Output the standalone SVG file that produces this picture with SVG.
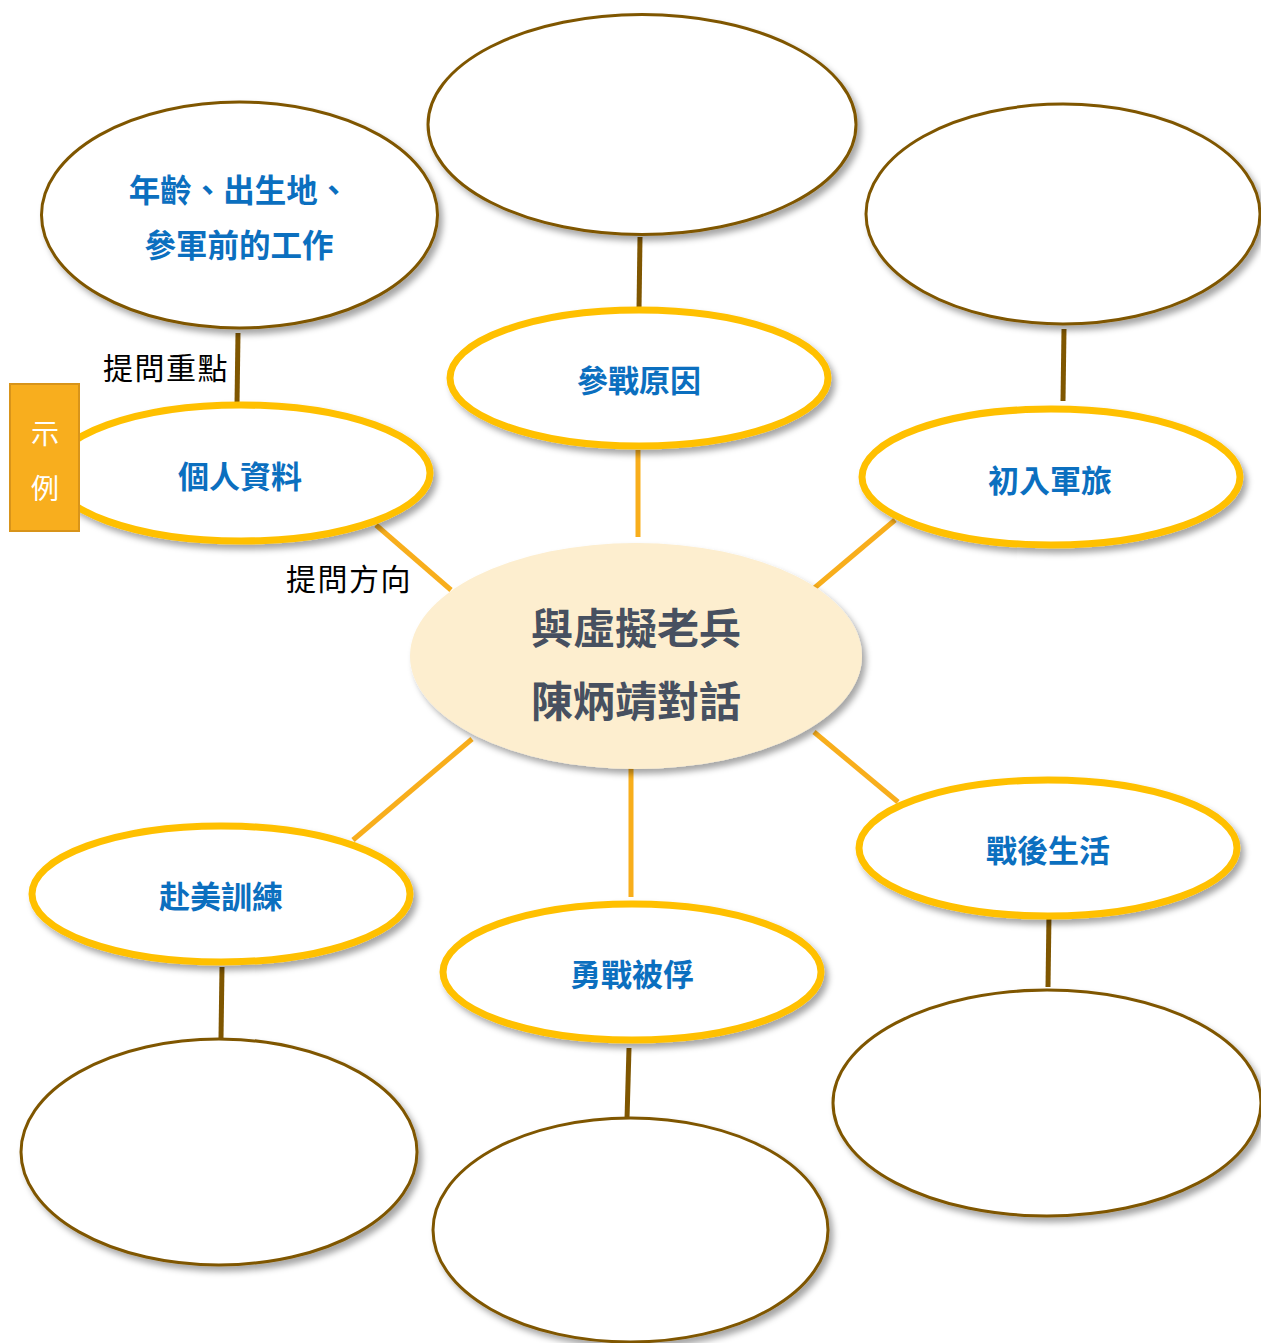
<svg xmlns="http://www.w3.org/2000/svg" width="1261" height="1343" viewBox="0 0 1261 1343">
<defs>
<filter id="sh" x="-10%" y="-10%" width="125%" height="130%">
<feDropShadow dx="4" dy="5" stdDeviation="3" flood-color="#000" flood-opacity="0.35"/>
</filter>
<style>
.out{fill:#fff;stroke:#7f5600;stroke-width:3;filter:url(#sh)}
.topic{fill:#fff;stroke:#ffc000;stroke-width:7;filter:url(#sh)}
.center{fill:#fdeecf;filter:url(#sh)}
.bc{stroke:#7f5600;stroke-width:5;fill:none}
.oc{stroke:#f8ae1c;stroke-width:5;fill:none}
.t{font-family:"Noto Sans CJK TC","Noto Sans CJK SC",sans-serif;font-weight:bold;font-size:31px;fill:#0b6fbf;dominant-baseline:central;text-anchor:middle}
.t2{font-size:31.5px}
.ct{font-family:"Noto Sans CJK TC","Noto Sans CJK SC",sans-serif;font-weight:bold;font-size:42px;fill:#475060;dominant-baseline:central;text-anchor:middle}
.lab{font-family:"Noto Sans CJK TC","Noto Sans CJK SC",sans-serif;font-size:30px;letter-spacing:1.5px;fill:#000;dominant-baseline:central}
.ex{font-family:"Noto Sans CJK TC","Noto Sans CJK SC",sans-serif;font-size:28px;fill:#fff;dominant-baseline:central;text-anchor:middle}
</style>
</defs>
<g id="connectors">
<line class="bc" x1="238" y1="333" x2="237" y2="404"/>
<line class="bc" x1="640" y1="237" x2="639" y2="309"/>
<line class="bc" x1="1064" y1="329" x2="1063" y2="401"/>
<line class="bc" x1="1049" y1="914" x2="1048" y2="987"/>
<line class="bc" x1="222" y1="967" x2="221" y2="1038"/>
<line class="bc" x1="629" y1="1048" x2="627" y2="1119"/>
<line class="oc" x1="376" y1="525" x2="451" y2="590"/>
<line class="oc" x1="638" y1="450" x2="638" y2="537"/>
<line class="oc" x1="895" y1="520" x2="812" y2="590"/>
<line class="oc" x1="472" y1="739" x2="353" y2="840"/>
<line class="oc" x1="631" y1="768" x2="631" y2="897"/>
<line class="oc" x1="814" y1="732" x2="898" y2="802"/>
</g>
<g id="q-personal">
<ellipse class="out" cx="239.5" cy="215" rx="198" ry="113"/>
<text class="t t2" x="239" y="188">年齡、出生地、</text>
<text class="t t2" x="239" y="243">參軍前的工作</text>
</g>
<g id="q-reason"><ellipse class="out" cx="642" cy="124.5" rx="214" ry="110"/></g>
<g id="q-enlist"><ellipse class="out" cx="1063" cy="214" rx="197" ry="110"/></g>
<g id="q-training"><ellipse class="out" cx="219" cy="1152" rx="198" ry="113"/></g>
<g id="q-captured"><ellipse class="out" cx="630.5" cy="1230" rx="197.5" ry="112"/></g>
<g id="q-postwar"><ellipse class="out" cx="1047" cy="1103" rx="214" ry="113"/></g>
<g id="personal"><ellipse class="topic" cx="241" cy="473" rx="189" ry="68"/><text class="t" x="240" y="474">個人資料</text></g>
<g id="reason"><ellipse class="topic" cx="639" cy="378" rx="189" ry="68"/><text class="t" x="639" y="378">參戰原因</text></g>
<g id="enlist"><ellipse class="topic" cx="1051" cy="477" rx="189" ry="68"/><text class="t" x="1050" y="478">初入軍旅</text></g>
<g id="postwar"><ellipse class="topic" cx="1048" cy="848" rx="189" ry="68"/><text class="t" x="1048" y="848">戰後生活</text></g>
<g id="training"><ellipse class="topic" cx="221" cy="894" rx="189" ry="68"/><text class="t" x="221" y="894">赴美訓練</text></g>
<g id="captured"><ellipse class="topic" cx="632" cy="972" rx="189" ry="68"/><text class="t" x="632" y="972">勇戰被俘</text></g>
<g id="center">
<ellipse class="center" cx="636" cy="656" rx="226" ry="113"/>
<text class="ct" x="636" y="625">與虛擬老兵</text>
<text class="ct" x="636" y="698">陳炳靖對話</text>
</g>
<g id="labels">
<text class="lab" x="103" y="366">提問重點</text>
<text class="lab" x="286" y="577">提問方向</text>
</g>
<g id="example">
<rect x="10" y="384" width="69" height="147" fill="#f8ae1e" stroke="#d8941a" stroke-width="2"/>
<text class="ex" x="45" y="432">示</text>
<text class="ex" x="45" y="487">例</text>
</g>
</svg>
